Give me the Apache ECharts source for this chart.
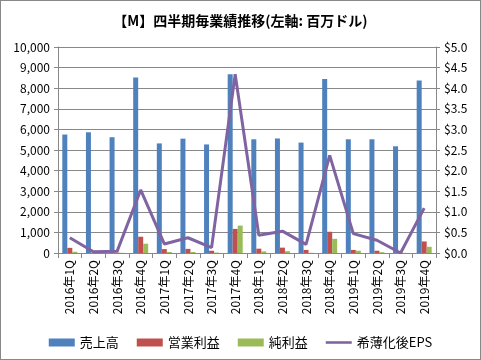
<!DOCTYPE html>
<html><head><meta charset="utf-8">
<script src="https://cdn.jsdelivr.net/npm/echarts@6/dist/echarts.min.js"></script>
<style>html,body{margin:0;padding:0;background:#fff}#c{width:481px;height:360px;box-sizing:border-box;border:1px solid #888}</style>
</head><body><div id="c"></div>
<script>
const categories = ['2016年1Q','2016年2Q','2016年3Q','2016年4Q','2017年1Q','2017年2Q','2017年3Q','2017年4Q','2018年1Q','2018年2Q','2018年3Q','2018年4Q','2019年1Q','2019年2Q','2019年3Q','2019年4Q'];
const revenue = [5750,5860,5620,8520,5320,5550,5270,8680,5520,5560,5360,8450,5520,5520,5180,8370];
const operatingIncome = [250,20,20,790,190,200,110,1170,210,260,150,1030,150,110,20,560];
const netIncome = [60,10,10,450,50,50,20,1330,80,90,10,690,110,40,5,300];
const dilutedEPS = [0.37,0.03,0.04,1.53,0.22,0.37,0.13,4.34,0.43,0.53,0.21,2.37,0.47,0.31,0.0,1.09];
const leftTicks = {min:0,max:10000,interval:1000};
const rightTicks = {min:0,max:5,interval:0.5};

const font = '"Noto Sans CJK JP", "Noto Sans", sans-serif';
const chart = echarts.init(document.getElementById('c'));
chart.setOption({
  animation:false,
  textStyle:{fontFamily:font},
  title:{text:'【M】四半期毎業績推移(左軸: 百万ドル)',left:'center',top:8,textStyle:{fontSize:14,fontWeight:'bold',color:'#000',fontFamily:font}},
  grid:{left:57,right:44,top:46,bottom:106,containLabel:false},
  legend:{top:330,left:'center',itemGap:18,itemWidth:26,itemHeight:8,textStyle:{fontSize:13,color:'#000',fontFamily:font},
    data:[{name:'売上高',icon:'rect'},{name:'営業利益',icon:'rect'},{name:'純利益',icon:'rect'},{name:'希薄化後EPS',icon:'path://M0,0H30V3H0Z'}]},
  xAxis:{type:'category',data:categories,
    axisLine:{lineStyle:{color:'#888'}},
    axisTick:{show:true,length:5,lineStyle:{color:'#888'}},
    axisLabel:{rotate:90,fontSize:12,color:'#000',margin:7,interval:0}},
  yAxis:[
    {type:'value',min:leftTicks.min,max:leftTicks.max,interval:leftTicks.interval,
      axisLine:{show:true,lineStyle:{color:'#888'}},axisTick:{show:true,length:4,inside:false,lineStyle:{color:'#888'}},
      splitLine:{lineStyle:{color:'#888'}},
      axisLabel:{fontSize:12,color:'#000',margin:8,formatter:v=>v.toLocaleString('en-US')}},
    {type:'value',min:rightTicks.min,max:rightTicks.max,interval:rightTicks.interval,
      axisLine:{show:true,lineStyle:{color:'#888'}},axisTick:{show:true,length:4,lineStyle:{color:'#888'}},
      splitLine:{show:false},
      axisLabel:{fontSize:12,color:'#000',margin:8,formatter:v=>'$'+v.toFixed(1)}}
  ],
  series:[
    {name:'売上高',type:'bar',data:revenue,barWidth:5,barGap:'0%',itemStyle:{color:'#4F81BD'}},
    {name:'営業利益',type:'bar',data:operatingIncome,barWidth:5,barGap:'0%',itemStyle:{color:'#C0504D'}},
    {name:'純利益',type:'bar',data:netIncome,barWidth:5,barGap:'0%',itemStyle:{color:'#9BBB59'}},
    {name:'希薄化後EPS',type:'line',yAxisIndex:1,data:dilutedEPS,symbol:'none',lineStyle:{color:'#8064A2',width:3},itemStyle:{color:'#8064A2'}}
  ]
});
</script></body></html>
